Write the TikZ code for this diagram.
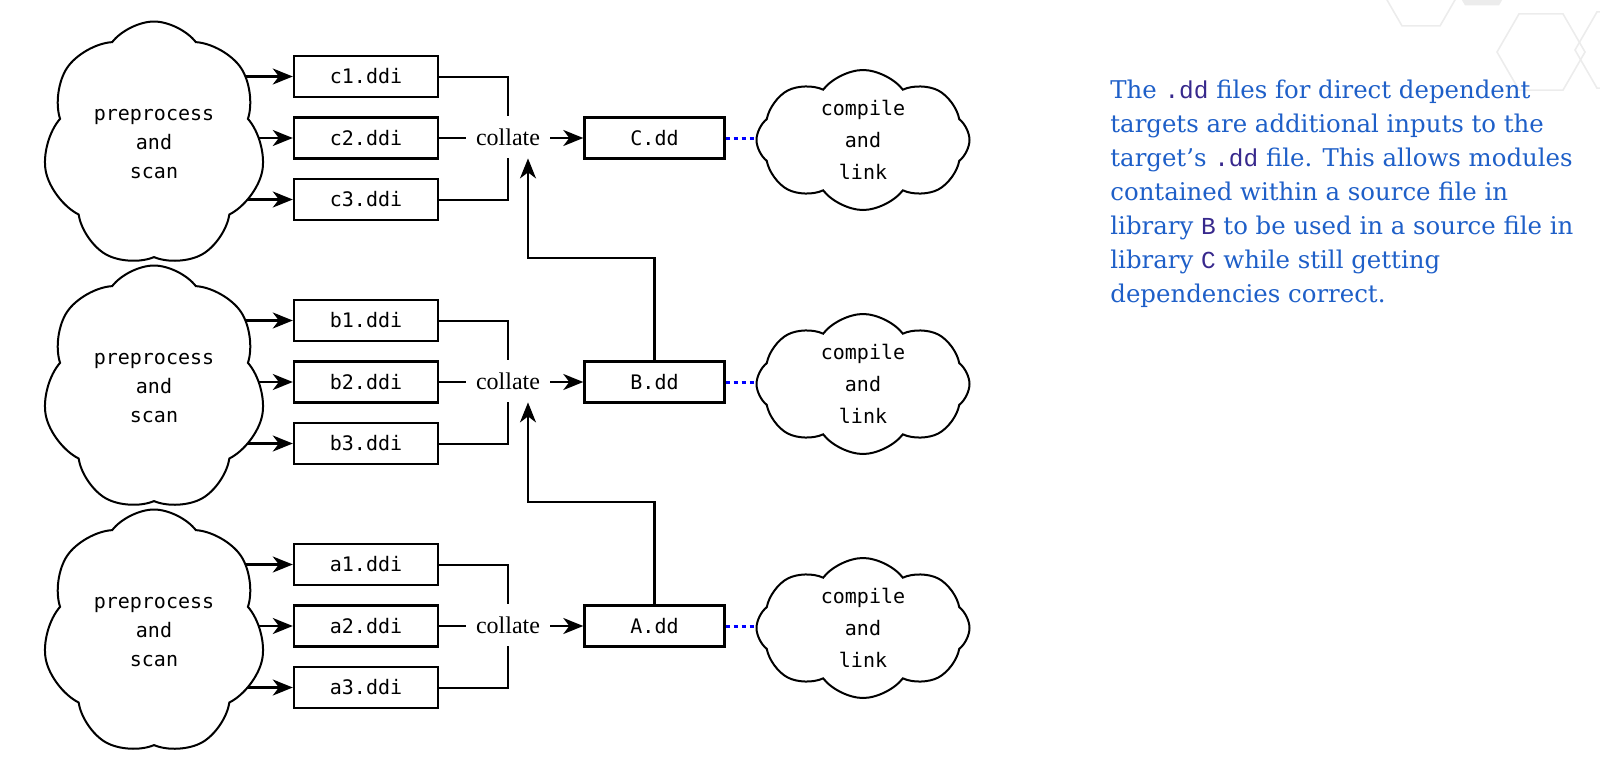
\documentclass[tikz,border=0pt]{standalone}
\usepackage{fontspec}
\setmainfont{DejaVu Serif}
\newfontfamily\codefont{DejaVu Sans Mono}
\newfontfamily\collatefont{Liberation Serif}
\newfontfamily\notett{Liberation Mono}
\usetikzlibrary{shapes.symbols,arrows.meta,backgrounds}
\definecolor{noteblue}{RGB}{30,95,200}
\definecolor{notecode}{RGB}{55,40,140}
\definecolor{hexgray}{RGB}{236,236,236}
\newcommand{\ddcode}[1]{{\notett\color{notecode}#1}}

\begin{document}
\begin{tikzpicture}[x=0.5pt,y=-0.5pt,
    file/.style={draw,line width=1.2pt,minimum width=72pt,minimum height=20.5pt,inner sep=0pt,
        font=\codefont\fontsize{10}{12}\selectfont},
    target/.style={file,minimum width=70pt},
    collate/.style={minimum width=42pt,minimum height=21pt,inner sep=0pt,
        font=\collatefont\fontsize{12}{14}\selectfont},
    scanner/.style={cloud,cloud puffs=7,cloud puff arc=105,aspect=0.9,draw,fill=white,line width=1pt,
        minimum width=111pt,minimum height=122.5pt,inner sep=0pt,align=center,
        font=\codefont\fontsize{10}{14.5}\selectfont},
    linker/.style={scanner,cloud puffs=8,aspect=1.5,minimum width=106.5pt,minimum height=70pt,
        font=\codefont\fontsize{10}{16}\selectfont},
    wire/.style={line width=1pt},
    arr/.style={line width=1.1pt,-{Stealth[length=10pt,width=8pt,inset=3pt]}},
    dotlink/.style={blue,line width=1.5pt,dash pattern=on 2pt off 2pt},
    hexline/.style={draw=hexgray,line width=0.8pt},
    note/.style={anchor=north west,inner sep=0pt,align=left,text=noteblue,
        font=\fontsize{12.2}{17}\selectfont}]
\useasboundingbox (0,0) rectangle (1600,760);

% faint hexagons in the corner
\fill[hexgray] (1482,-24) ++(0:34) -- ++(120:34) -- ++(180:34) -- ++(240:34) -- ++(300:34) -- ++(0:34) -- cycle;
\foreach \cx/\cy/\r in {1541/52/44, 1421/-7/38, 1619/50/44}
    \draw[hexline] (\cx,\cy) ++(0:\r) -- ++(120:\r) -- ++(180:\r) -- ++(240:\r) -- ++(300:\r) -- ++(0:\r) -- cycle;

\foreach \lo/\up/\row in {c/C/138, b/B/382, a/A/626} {
    \node[scanner] (scan\up) at (154,\row+6) {preprocess\\and\\scan};
    \node[file] (\lo1) at (366,\row-61.5) {\lo1.ddi};
    \node[file] (\lo2) at (366,\row) {\lo2.ddi};
    \node[file] (\lo3) at (366,\row+61.5) {\lo3.ddi};
    \node[collate] (col\up) at (508,\row-1) {collate};
    \node[target] (dd\up) at (654.5,\row) {\up.dd};
    \node[linker] (link\up) at (863,\row+2) {compile\\and\\link};
    \coordinate (in\up) at ([xshift=10pt]col\up.south);

    \begin{scope}[on background layer]
        \draw[arr] (scan\up.center |- \lo1) -- (\lo1.west);
        \draw[arr] (scan\up.center |- \lo2) -- (\lo2.west);
        \draw[arr] (scan\up.center |- \lo3) -- (\lo3.west);
        \draw[dotlink] (dd\up.east) -- (link\up.center |- dd\up);
    \end{scope}

    \draw[wire] (\lo1.east) -| (col\up.north);
    \draw[wire] (\lo2.east) -- (\lo2.east -| col\up.west);
    \draw[wire] (\lo3.east) -| (col\up.south);
    \draw[arr] (col\up.east |- dd\up) -- (dd\up.west);
}

% dependent targets feed the next collate
\draw[wire,arr] (ddB.north) -- ++(0,-102) -| (inC);
\draw[wire,arr] (ddA.north) -- ++(0,-102) -| (inB);

\node[note] (note) at (1110,80) {The \ddcode{.dd} files for direct dependent\\
    targets are additional inputs to the\\
    target’s \ddcode{.dd} file. This allows modules\\
    contained within a source file in\\
    library \ddcode{B} to be used in a source file in\\
    library \ddcode{C} while still getting\\
    dependencies correct.};
\end{tikzpicture}
\end{document}
